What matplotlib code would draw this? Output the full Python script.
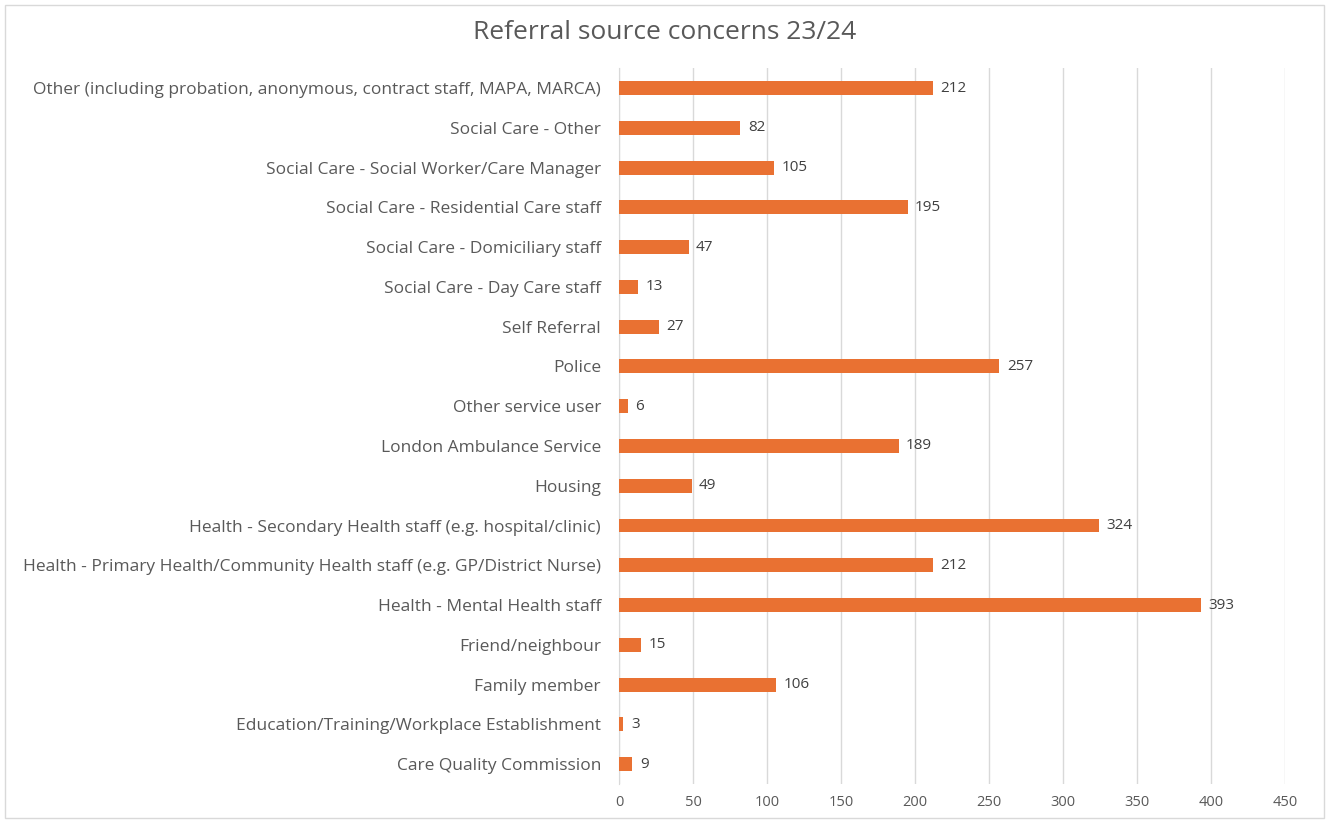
import numpy as np
import matplotlib.pyplot as plt
from matplotlib.patches import Rectangle

sources = [
    "Care Quality Commission",
    "Education/Training/Workplace Establishment",
    "Family member",
    "Friend/neighbour",
    "Health - Mental Health staff",
    "Health - Primary Health/Community Health staff (e.g. GP/District Nurse)",
    "Health - Secondary Health staff (e.g. hospital/clinic)",
    "Housing",
    "London Ambulance Service",
    "Other service user",
    "Police",
    "Self Referral",
    "Social Care - Day Care staff",
    "Social Care - Domiciliary staff",
    "Social Care - Residential Care staff",
    "Social Care - Social Worker/Care Manager",
    "Social Care - Other",
    "Other (including probation, anonymous, contract staff, MAPA, MARCA)",
]
counts = [9, 3, 106, 15, 393, 212, 324, 49, 189, 6, 257, 27, 13, 47, 195, 105, 82, 212]
xticks = [0, 50, 100, 150, 200, 250, 300, 350, 400, 450]

orange = "#E97132"
grey_text = "#595959"

plt.rcParams['font.family'] = ['Open Sans', 'DejaVu Sans']

fig = plt.figure(figsize=(13.29, 8.21), dpi=100)
fig.patches.append(Rectangle((0.004, 0.004), 0.992, 0.99, transform=fig.transFigure,
                             fill=False, edgecolor="#D9D9D9", linewidth=1))
ax = fig.add_axes([0.4658, 0.045, 0.5011, 0.872])

y = np.arange(len(sources))
ax.barh(y, counts, height=0.35, color=orange, zorder=3)
for yi, v in zip(y, counts):
    ax.text(v + 5, yi, str(v), va="center", ha="left", fontsize=11, color="#404040")

ax.set_ylim(-0.5, len(sources) - 0.5)
ax.set_xlim(0, 450)
ax.set_xticks(xticks)
ax.set_yticks(y)
ax.set_yticklabels(sources, fontsize=12.5, color=grey_text)
ax.tick_params(axis="x", labelsize=10.5, labelcolor=grey_text, length=0, pad=8)
ax.tick_params(axis="y", length=0, pad=13)
ax.grid(axis="x", color="#D9D9D9", linewidth=1, zorder=0)
for s in ["top", "right", "bottom"]:
    ax.spines[s].set_visible(False)
ax.spines["left"].set_color("#D9D9D9")

fig.text(0.5, 0.96, "Referral source concerns 23/24", ha="center", va="center",
         fontsize=19, color=grey_text)

fig.savefig("out.png", dpi=100)
